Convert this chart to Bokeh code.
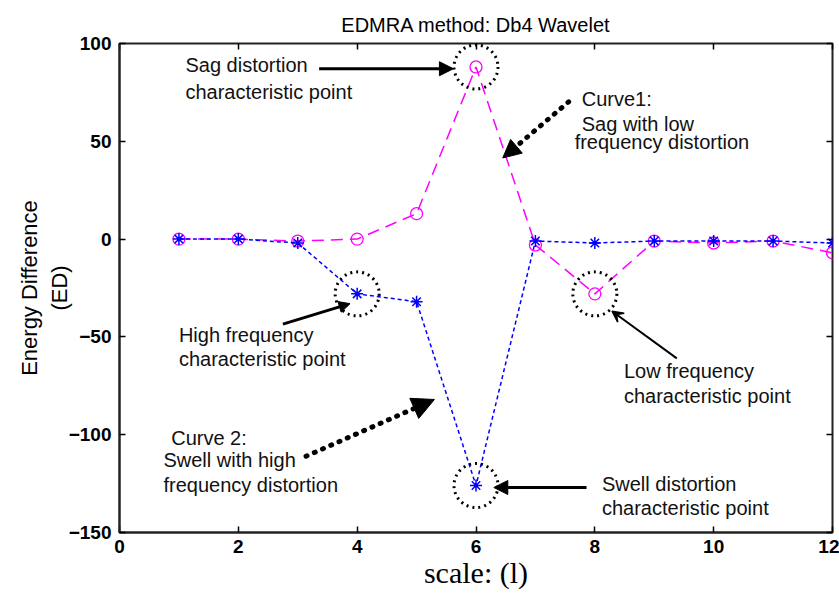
from bokeh.plotting import figure
from bokeh.models import (ColumnDataSource, Arrow, NormalHead, VeeHead, LinearAxis,
                          FixedTicker, Range1d)
from bokeh.embed import file_html
from bokeh.resources import INLINE

# ---- data ----
scales = [1, 2, 3, 4, 5, 6, 7, 8, 9, 10, 11, 12]
curve1_sag = [0, 0, -1, 0, 13, 88, -3, -28, -1, -2, -1, -7]
curve2_swell = [0, 0, -2, -28, -32, -126, -1, -2, -1, -1, -1, -2]
x_ticks = [0, 2, 4, 6, 8, 10, 12]
y_ticks = [-150, -100, -50, 0, 50, 100]

title_text = "EDMRA method: Db4 Wavelet"
y_label = "Energy Difference\n(ED)"
x_label = "scale: (l)"

FONT = "Liberation Sans"

p = figure(width=839, height=596, output_backend="svg", toolbar_location=None,
           x_range=Range1d(0, 12), y_range=Range1d(-150, 100),
           title=title_text, min_border_left=119, min_border_right=7,
           min_border_top=43, min_border_bottom=64)

p.title.align = "center"
p.title.text_font = FONT
p.title.text_font_size = "20px"
p.title.text_font_style = "normal"
p.title.text_color = "black"
p.title.offset = 0
p.title.standoff = 15

p.xgrid.visible = False
p.ygrid.visible = False
p.outline_line_color = "#222222"
p.outline_line_width = 2

for ax in (p.xaxis[0], p.yaxis[0]):
    ax.major_tick_in = 6
    ax.major_tick_out = 0
    ax.minor_tick_line_color = None
    ax.axis_line_width = 2
    ax.axis_line_color = "#222222"
    ax.major_tick_line_width = 1.5
    ax.major_label_text_font = FONT
    ax.major_label_text_font_size = "19px"
    ax.major_label_text_font_style = "bold"
    ax.major_label_text_color = "black"
    ax.axis_label_text_color = "black"

p.xaxis[0].ticker = FixedTicker(ticks=x_ticks)
p.yaxis[0].ticker = FixedTicker(ticks=y_ticks)
p.xaxis[0].axis_label = x_label
p.xaxis[0].axis_label_text_font = "Liberation Serif"
p.xaxis[0].axis_label_text_font_size = "30px"
p.xaxis[0].axis_label_text_font_style = "normal"
p.xaxis[0].axis_label_standoff = 0
p.xaxis[0].major_label_standoff = 7
p.yaxis[0].axis_label = y_label
p.yaxis[0].axis_label_text_font = FONT
p.yaxis[0].axis_label_text_font_size = "22px"
p.yaxis[0].axis_label_text_font_style = "normal"
p.yaxis[0].axis_label_standoff = -6
p.yaxis[0].major_label_standoff = 8

# mirrored ticks (top/right), no labels
top_ax = LinearAxis(ticker=FixedTicker(ticks=x_ticks), major_tick_in=6, major_tick_out=0,
                    minor_tick_line_color=None, axis_line_color=None,
                    major_tick_line_width=1.5, major_label_standoff=0,
                    major_label_overrides={t: "" for t in x_ticks})
right_ax = LinearAxis(ticker=FixedTicker(ticks=y_ticks), major_tick_in=6, major_tick_out=0,
                      minor_tick_line_color=None, axis_line_color=None,
                      major_tick_line_width=1.5, major_label_standoff=0,
                      major_label_overrides={t: "" for t in y_ticks})
p.add_layout(top_ax, "above")
p.add_layout(right_ax, "right")

src = ColumnDataSource(dict(x=scales, c1=curve1_sag, c2=curve2_swell))

# Curve 1 (magenta, long dashes, circles)
p.line("x", "c1", source=src, line_color="#ff00ff", line_width=1.5, line_dash="12 7")
p.scatter("x", "c1", source=src, marker="circle", size=12, fill_color=None,
          line_color="#ff00ff", line_width=1.3)

# Curve 2 (blue, dotted, asterisks)
p.line("x", "c2", source=src, line_color="#0000ff", line_width=1.5, line_dash="4 3")
p.scatter("x", "c2", source=src, marker="asterisk", size=12, line_color="#0000ff",
          line_width=1.5)

# dotted highlight circles around characteristic points
hl_idx = [5, 7]   # curve1: scale 6 and 8
hl_idx2 = [3, 5]  # curve2: scale 4 and 6
hx = [scales[i] for i in hl_idx] + [scales[i] for i in hl_idx2]
hy = [curve1_sag[i] for i in hl_idx] + [curve2_swell[i] for i in hl_idx2]
p.scatter(hx, hy, marker="circle", size=44, fill_color=None, line_color="black",
          line_width=3, line_dash="2 4")

def add_text(x, y, lines, size="20px", lh=1.1):
    p.text(x=[x], y=[y], text=["\n".join(lines)], text_font={"value": FONT},
           text_font_size=size, text_baseline="top", text_align="left",
           text_color="#111111", text_line_height=lh)

add_text(1.11, 94.5, ["Sag distortion", "characteristic point"], lh=1.2)
add_text(7.78, 77, ["Curve1:", "Sag with low"])
add_text(7.66, 55.5, ["frequency distortion"])
add_text(1.0, -43.5, ["High frequency", "characteristic point"])
add_text(8.49, -62, ["Low frequency", "characteristic point"])
add_text(0.87, -96, ["Curve 2:"])
add_text(0.74, -107.5, ["Swell with high", "frequency distortion"])
add_text(8.12, -119.5, ["Swell distortion", "characteristic point"])

def solid_arrow(x0, y0, x1, y1, head_size=14):
    p.add_layout(Arrow(x_start=x0, y_start=y0, x_end=x1, y_end=y1,
                       line_color="black", line_width=3,
                       end=NormalHead(size=head_size, fill_color="black", line_color="black")))

def dotted_arrow(x0, y0, x1, y1, head_size=18):
    p.add_layout(Arrow(x_start=x0, y_start=y0, x_end=x1, y_end=y1,
                       line_color="black", line_width=5, line_dash="1 8", line_cap="round",
                       end=NormalHead(size=head_size, fill_color="black", line_color="black",
                                      line_dash="solid", line_width=1)))

solid_arrow(3.36, 87.1, 5.62, 87.1)
dotted_arrow(7.56, 70.2, 6.45, 41.5)
solid_arrow(2.75, -43.5, 3.88, -33.0, head_size=11)
p.add_layout(Arrow(x_start=9.38, y_start=-61, x_end=8.29, y_end=-36.9,
                   line_color="black", line_width=2,
                   end=VeeHead(size=11, fill_color="black", line_color="black", line_width=1.5)))
dotted_arrow(3.14, -111, 5.3, -82, head_size=22)
solid_arrow(7.86, -127, 6.3, -127)

open("out.html", "w").write(file_html(p, INLINE))
